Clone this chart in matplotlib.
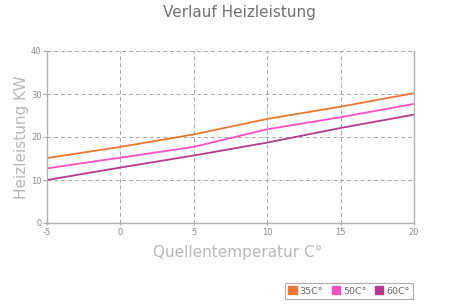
import matplotlib
matplotlib.use("Agg")
import matplotlib.pyplot as plt
from matplotlib.patches import Patch

x = [-5, 0, 5, 10, 15, 20]
s35 = [15.1, 17.7, 20.6, 24.2, 27.05, 30.2]
s50 = [12.7, 15.2, 17.7, 21.8, 24.6, 27.7]
s60 = [10.0, 12.9, 15.7, 18.7, 22.1, 25.2]
labels = ["35C°", "50C°", "60C°"]
colors = ["#F07533", "#FF4FC4", "#B33A8F"]

plt.rcParams['font.family'] = ['DejaVu Sans']
plt.rcParams['axes.unicode_minus'] = False
fig = plt.figure(figsize=(4.5, 3.07), dpi=100)
ax = fig.add_axes([47/450, 1-223/307, (414-47)/450, (223-51)/307])

for ys, c in zip([s35, s50, s60], colors):
    ax.plot(x, ys, color=c, lw=1.3)

ax.set_xlim(-5, 20)
ax.set_ylim(0, 40)
ax.set_xticks([-5, 0, 5, 10, 15, 20])
ax.set_yticks([0, 10, 20, 30, 40])
ax.grid(True, color="#a8a8a8", ls=(0, (4, 3)), lw=0.7)
for s in ["left", "bottom", "right"]:
    ax.spines[s].set_color("#b0b0b0")
    ax.spines[s].set_linewidth(1.0)
ax.spines["top"].set_visible(False)
ax.tick_params(axis="both", colors="#aaaaaa", labelcolor="#8a8a8a", labelsize=6, length=3, width=0.8)
ax.tick_params(axis="x", direction="inout", pad=2)
ax.tick_params(axis="y", direction="out", pad=1)

fig.text(239/450, 1-12/307, "Verlauf Heizleistung", ha="center", va="center", fontsize=11, color="#707070")
ax.set_ylabel("Heizleistung KW", fontsize=11, color="#b8b8b8", labelpad=1)
ax.set_xlabel("Quellentemperatur C°", fontsize=11, color="#b8b8b8", labelpad=7)
ax.xaxis.set_label_coords((238-47)/(414-47), -0.13)

handles = [Patch(facecolor=c, edgecolor=c) for c in colors]
leg = fig.legend(handles, labels, loc="center", bbox_to_anchor=(349/450, 1-291/307), ncol=3,
                 fontsize=6.8, frameon=True, fancybox=False, handlelength=0.9, handleheight=0.9,
                 handletextpad=0.3, columnspacing=0.9, borderpad=0.4, labelcolor="#666666")
leg.get_frame().set_edgecolor("#999999")
leg.get_frame().set_linewidth(0.8)

fig.savefig("out.png", dpi=100)
